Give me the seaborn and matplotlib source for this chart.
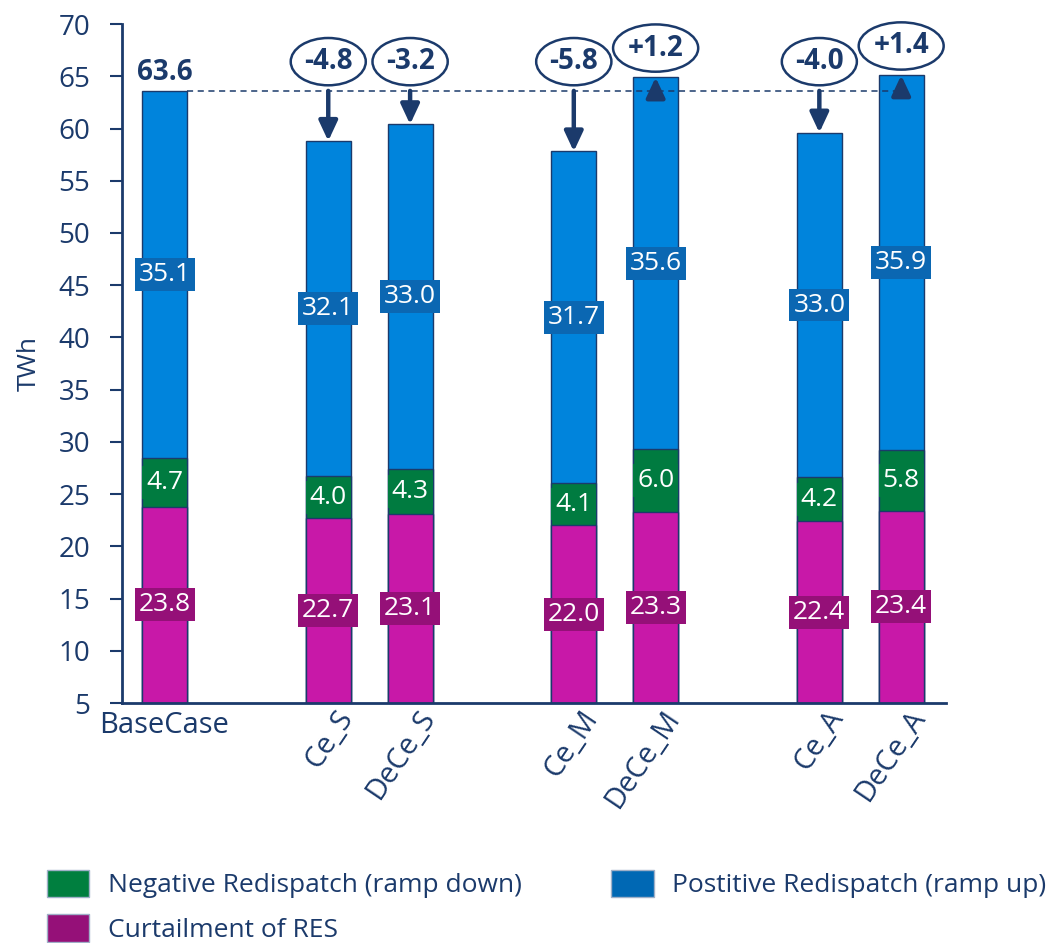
import matplotlib
matplotlib.use("Agg")
import matplotlib.pyplot as plt
import seaborn as sns
import pandas as pd
from matplotlib.patches import Patch

# Scenario data (TWh)
scenarios = ["BaseCase", "Ce_S", "DeCe_S", "Ce_M", "DeCe_M", "Ce_A", "DeCe_A"]
curtailment = [23.8, 22.7, 23.1, 22.0, 23.3, 22.4, 23.4]
negative_rd = [4.7, 4.0, 4.3, 4.1, 6.0, 4.2, 5.8]
positive_rd = [35.1, 32.1, 33.0, 31.7, 35.6, 33.0, 35.9]
delta_labels = ["", "-4.8", "-3.2", "-5.8", "+1.2", "-4.0", "+1.4"]
base_total_label = "63.6"

# Category order with spacer slots between scenario groups
order = ["BaseCase", " ", "Ce_S", "DeCe_S", "  ", "Ce_M", "DeCe_M", "   ", "Ce_A", "DeCe_A"]

NAVY = "#1B3A6B"
C_MAG, C_MAG_BOX = "#C818A8", "#951078"
C_GRN, C_GRN_BOX = "#007B40", "#007B40"
C_BLU, C_BLU_BOX = "#0084DC", "#0B67B2"
LEG_GRN, LEG_BLU, LEG_MAG = "#007F3F", "#0068B4", "#951078"

df = pd.DataFrame({
    "scenario": scenarios,
    "curt": curtailment,
    "neg": negative_rd,
    "pos": positive_rd,
})
df["lvl1"] = df["curt"]
df["lvl2"] = df["curt"] + df["neg"]
df["lvl3"] = df["lvl2"] + df["pos"]

sns.set_theme(style="white")
plt.rcParams["font.family"] = ["Open Sans", "DejaVu Sans"]

fig = plt.figure(figsize=(10.49, 9.43), dpi=100)
ax = fig.add_axes([0.1163, 0.2545, 0.902 - 0.1163, 0.9745 - 0.2545])

BW = 0.55
for col, color in [("lvl3", C_BLU), ("lvl2", C_GRN), ("lvl1", C_MAG)]:
    sns.barplot(data=df, x="scenario", y=col, order=order, color=color,
                saturation=1, width=BW, edgecolor=NAVY, linewidth=1.0, ax=ax)

YMIN, YMAX = 5, 70
FS = 19
ax.set_ylim(YMIN, YMAX)
ax.set_xlim(-0.52, 9.55)
ax.set_yticks(range(5, 71, 5))
ax.tick_params(axis="y", direction="out", length=9, width=1.5, color=NAVY,
               labelsize=20, labelcolor=NAVY, left=True, pad=14)
ax.tick_params(axis="x", length=0, labelsize=FS, labelcolor=NAVY)

pos = [order.index(s) for s in scenarios]
ax.set_xticks(pos)
ax.set_xticklabels([])
for p, s in zip(pos, scenarios):
    if s == "BaseCase":
        ax.text(p, YMIN - 0.8, s, ha="center", va="top", fontsize=21, color=NAVY)
    else:
        ax.text(p + 0.08, YMIN - 0.2, s, ha="right", va="top", fontsize=21,
                color=NAVY, rotation=56, rotation_mode="anchor")

ax.set_xlabel("")
ax.set_ylabel("TWh", fontsize=FS, color=NAVY, labelpad=12)
for side in ["top", "right"]:
    ax.spines[side].set_visible(False)
for side in ["left", "bottom"]:
    ax.spines[side].set_color(NAVY)
    ax.spines[side].set_linewidth(2)

# Segment value labels
def seg_label(x, y, text, box):
    ax.text(x, y, text, ha="center", va="center", fontsize=FS, color="white", zorder=6,
            bbox=dict(boxstyle="square,pad=0.15", facecolor=box, edgecolor="none"))

for p, r in zip(pos, df.itertuples()):
    seg_label(p, (YMIN + r.lvl1) / 2, f"{r.curt:.1f}", C_MAG_BOX)
    seg_label(p, (r.lvl1 + r.lvl2) / 2, f"{r.neg:.1f}", C_GRN_BOX)
    seg_label(p, (r.lvl2 + r.lvl3) / 2, f"{r.pos:.1f}", C_BLU_BOX)

# Reference line at the base case total
base_total = df["lvl3"].iloc[0]
ax.plot([pos[0] + BW / 2, pos[-1]], [base_total, base_total], ls=(0, (4, 3)),
        color=NAVY, lw=1.1, zorder=7)
ax.text(pos[0], base_total + 0.35, base_total_label, ha="center", va="bottom",
        fontsize=20, fontweight="bold", color=NAVY)

# Change arrows and difference labels
for p, total, lab in zip(pos[1:], df["lvl3"].iloc[1:], delta_labels[1:]):
    ax.annotate("", xy=(p, total), xytext=(p, base_total),
                arrowprops=dict(arrowstyle="-|>,head_length=0.6,head_width=0.28",
                                lw=3.2, color=NAVY, shrinkA=0, shrinkB=0,
                                mutation_scale=20), zorder=8)
    ax.text(p, max(total, base_total) + 2.8, lab, ha="center", va="center",
            fontsize=20, fontweight="bold", color=NAVY, zorder=9,
            bbox=dict(boxstyle="ellipse,pad=0.08", facecolor="white",
                      edgecolor=NAVY, lw=1.8))

# Legend
handles = [Patch(facecolor=LEG_GRN, edgecolor="#9FB0C8", label="Negative Redispatch (ramp down)"),
           Patch(facecolor=LEG_MAG, edgecolor="#9FB0C8", label="Curtailment of RES"),
           Patch(facecolor=LEG_BLU, edgecolor="#9FB0C8", label="Postitive Redispatch (ramp up)")]
leg = fig.legend(handles=handles, loc="lower left", bbox_to_anchor=(0.045, 0.0),
                 ncol=2, frameon=False, fontsize=FS, handlelength=1.6, handleheight=1.25,
                 columnspacing=3.4, labelspacing=0.6, handletextpad=0.7,
                 borderpad=0, borderaxespad=0)
for t in leg.get_texts():
    t.set_color(NAVY)

fig.savefig("out.png", dpi=100)
